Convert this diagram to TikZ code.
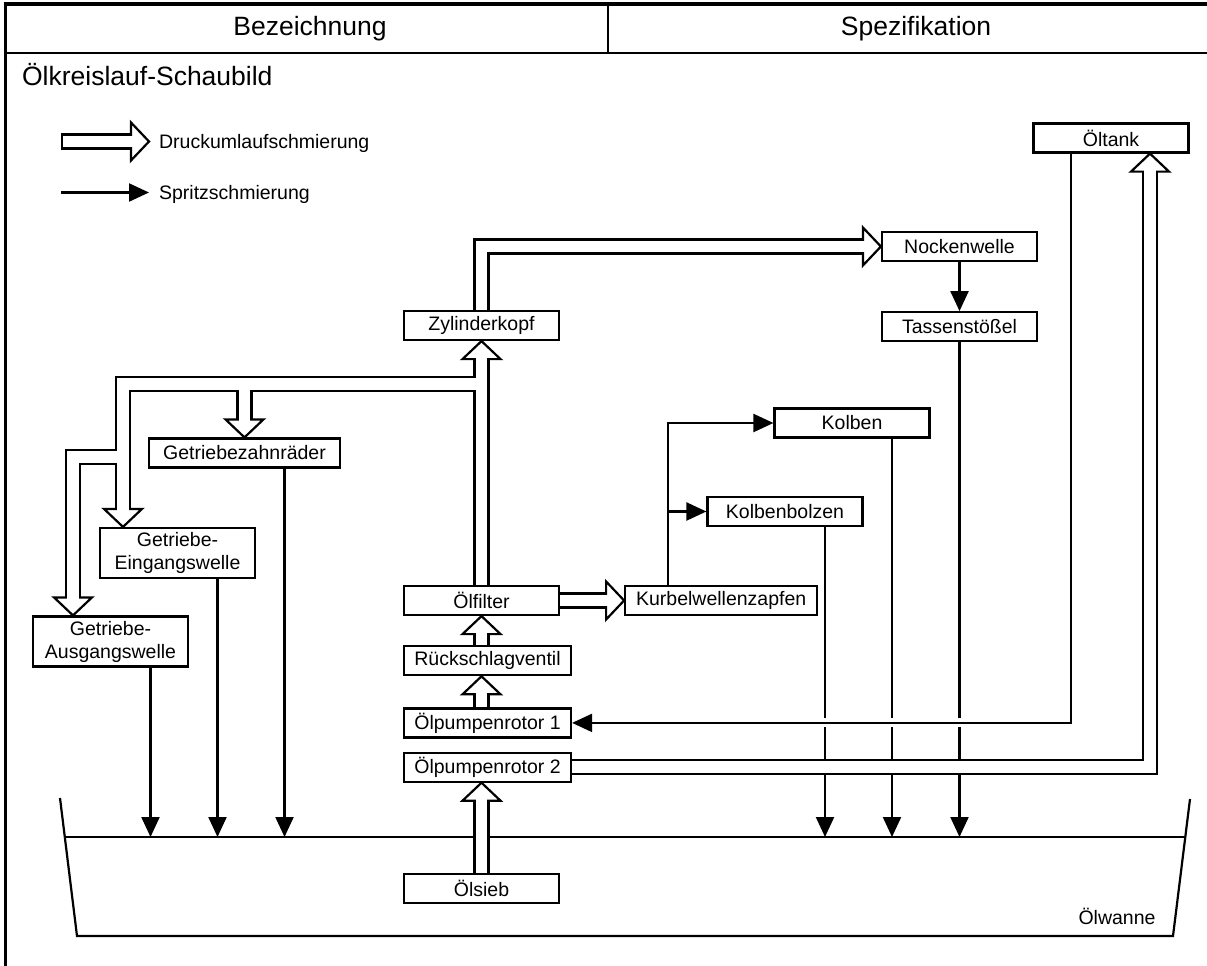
\documentclass[tikz,border=0pt]{standalone}
\usepackage{fontspec}
\setmainfont{Liberation Sans}
\usetikzlibrary{arrows.meta,positioning,calc}

\tikzset{
  % --- Kästen ---------------------------------------------------------------
  partbox/.style={
    rectangle, draw, line width=2.2pt, fill=white, align=center,
    minimum width=155pt, minimum height=29pt, inner sep=3pt,
    font=\fontsize{19.5}{23}\selectfont
  },
  widepart/.style={partbox, minimum width=167pt},
  twoline/.style={partbox, minimum height=50pt},
  legendtext/.style={inner sep=0pt, font=\fontsize{19.5}{23}\selectfont},
  headline/.style={inner sep=0pt, font=\fontsize{26.5}{32}\selectfont},
  % --- Schmierwege ----------------------------------------------------------
  % Druckumlauf = Hohlpfeil: erst alle schwarzen, dann alle weissen Bahnen,
  % damit die Abzweige offen ineinander laufen.
  pipe/.style={draw=black, line width=16.2pt, line join=miter},
  pipefill/.style={draw=white, line width=11.8pt, line join=miter},
  hollowhead/.pic={
    \draw[line width=2.2pt, fill=white, line join=miter]
      (0,0) -- (-18,-19) -- (-18,19) -- cycle;
    \fill[white] (-19.6,-5.8) rectangle (-16,5.8);
  },
  spray/.style={draw, line width=2.2pt, -{Triangle[length=20pt,width=18pt]}},
  halo/.style={draw=white, line width=9pt},
}

\begin{document}
\begin{tikzpicture}[x=1pt, y=-1pt, line width=2.2pt]
  \useasboundingbox (0,0) rectangle (1207,966);

  % Kopfzeile
  \draw[line width=4.5pt] (3.5,4) -- (1207,4);
  \draw[line width=3.2pt] (5.5,2) -- (5.5,966);
  \draw (5.5,53) -- (1207,53);
  \draw (608,4) -- (608,53);
  \node[headline, anchor=base] (colname) at (310,35.5) {Bezeichnung};
  \node[headline, anchor=base] (colspec) at (916,35.5) {Spezifikation};
  \node[headline, anchor=base west] (title) at (21,85) {Ölkreislauf-Schaubild};

  % Legende
  \node[legendtext, anchor=base west] (lgdpress) at (158,148) {Druckumlaufschmierung};
  \node[legendtext, anchor=base west] (lgdspray) at (158,199) {Spritzschmierung};
  \coordinate (pressA) at ($(lgdpress.base west)+(-97,-6.5)$);
  \coordinate (pressB) at ($(lgdpress.base west)+(-9,-6.5)$);
  \draw[pipe, shorten >=18pt] (pressA) -- (pressB);
  \draw[pipefill, shorten <=2.2pt, shorten >=18pt] (pressA) -- (pressB);
  \pic at (pressB) {hollowhead};
  \draw[spray] ($(lgdspray.base west)+(-97,-6.5)$) -- ($(lgdspray.base west)+(-9,-6.5)$);

  % Ölwanne
  \coordinate (oil) at (0,837);
  \draw (60,798) -- (77,936) -- (1173,936) -- (1190,799);
  \draw (64.8,837) -- (1185.3,837);
  \node[legendtext, anchor=base] (wanne) at (1117,924) {Ölwanne};

  % Bauteile
  \node[partbox] (tank) at (1111,138) {Öltank};
  \node[partbox] (nocken) at (959.5,246.5) {Nockenwelle};
  \node[partbox, below=49pt of nocken] (tassen) {Tassenstößel};
  \node[partbox] (kopf) at (481.5,325.5) {Zylinderkopf};
  \node[partbox] (kolben) at (852,423) {Kolben};
  \node[partbox] (bolzen) at (785,511.5) {Kolbenbolzen};
  \node[partbox] (filter) at (481.5,600.5) {Ölfilter};
  \node[partbox, minimum width=192pt, right=64pt of filter] (kurbel) {Kurbelwellenzapfen};
  \node[widepart, below right=29pt and 0pt of filter.south west] (ventil) {Rückschlagventil};
  \node[widepart, below=31pt of ventil] (rotor1) {Ölpumpenrotor 1};
  \node[widepart, below=13pt of rotor1] (rotor2) {Ölpumpenrotor 2};
  \node[partbox, below right=90pt and 0pt of rotor2.south west] (sieb) {Ölsieb};
  \node[partbox, minimum width=191pt] (zahn) at (244.5,453) {Getriebezahnräder};
  \node[twoline] (eingang) at (177.5,553) {Getriebe-\\Eingangswelle};
  \node[twoline] (ausgang) at (110.5,641.5) {Getriebe-\\Ausgangswelle};

  \coordinate (tee) at ($(kopf.south)+(0,43)$);
  \coordinate (intoin) at ($(eingang.north)+(-54.5,0)$);
  \coordinate (tee3) at ($(intoin)+(0,-70)$);
  \coordinate (intoaus) at ($(ausgang.north)+(-37.5,0)$);
  \coordinate (intotank) at ($(tank.south)+(39,0)$);
  \coordinate (tankout) at ($(tank.south)+(-40,0)$);
  \coordinate (kup) at ($(kurbel.north)+(-53,0)$);

  % Spritzschmierung
  \draw[spray] (nocken) -- (tassen);
  \draw[spray] (kup) |- (kolben.west);
  \draw[spray] (kup |- bolzen.west) -- (bolzen.west);
  \foreach \src in {ausgang,eingang,zahn,kolben,bolzen} {
    \coordinate (drop) at ($(\src.south)+(40,0)$);
    \draw[spray] (drop) -- (drop |- oil);
  }
  \draw[spray] (tassen) -- (tassen.south |- oil);
  \draw[halo] (tankout) |- ($(rotor1.east)+(25,0)$);
  \draw[spray] (tankout) |- (rotor1.east);

  % Druckumlaufschmierung
  \foreach \layer in {pipe,pipefill} {
    \draw[\layer, shorten >=18pt] (filter) -- (kopf);
    \draw[\layer, shorten >=18pt] (kopf.north) |- (nocken.west);
    \draw[\layer, shorten >=18pt] (tee) -| (intoin);
    \draw[\layer, shorten >=18pt] (zahn.north |- tee) -- (zahn.north);
    \draw[\layer, shorten >=18pt] (tee3) -| (intoaus);
    \draw[\layer, shorten >=18pt] (filter) -- (kurbel);
    \draw[\layer, shorten >=18pt] (filter.south |- ventil.north) -- (filter.south);
    \draw[\layer, shorten >=18pt] (filter.south |- rotor1.north) -- (filter.south |- ventil.south);
    \draw[\layer, shorten >=18pt] (sieb) -- (sieb.north |- rotor2.south);
    \draw[\layer, shorten >=18pt] (rotor2.east) -| (intotank);
  }
  \pic[rotate=90] at (kopf.south) {hollowhead};
  \pic at (nocken.west) {hollowhead};
  \pic[rotate=-90] at (intoin) {hollowhead};
  \pic[rotate=-90] at (zahn.north) {hollowhead};
  \pic[rotate=-90] at (intoaus) {hollowhead};
  \pic at (kurbel.west) {hollowhead};
  \pic[rotate=90] at (filter.south) {hollowhead};
  \pic[rotate=90] at (filter.south |- ventil.south) {hollowhead};
  \pic[rotate=90] at (sieb.north |- rotor2.south) {hollowhead};
  \pic[rotate=90] at (intotank) {hollowhead};
\end{tikzpicture}
\end{document}
